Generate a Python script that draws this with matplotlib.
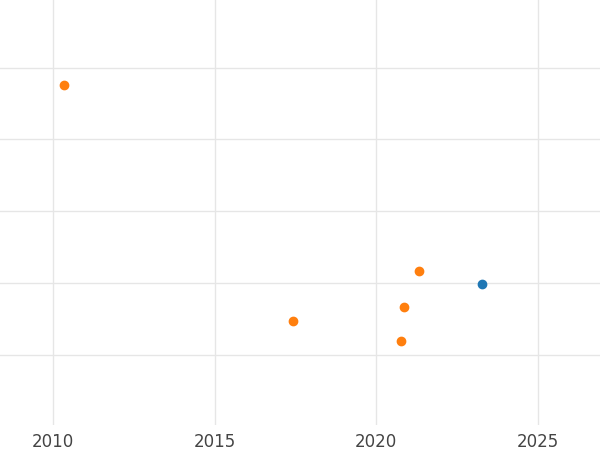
import matplotlib.pyplot as plt

# series values
orange_x = [2010.34, 2017.43, 2020.87, 2021.33, 2020.77]
orange_y = [4.76, 1.47, 1.67, 2.17, 1.19]
blue_x = [2023.28]
blue_y = [1.99]
xticks = [2010, 2015, 2020, 2025]

fig = plt.figure(figsize=(6, 4.5), dpi=100)
ax = fig.add_axes([0, 0.056, 1, 0.944])

ax.scatter(orange_x, orange_y, color='#ff7f0e', s=36, zorder=3)
ax.scatter(blue_x, blue_y, color='#1f77b4', s=36, zorder=3)

ax.set_xlim(2008.36, 2026.93)
ax.set_ylim(0.03, 5.94)
ax.set_xticks(xticks)
ax.set_yticks([1, 2, 3, 4, 5])
ax.set_yticklabels([])
ax.grid(True, color='#e6e6e6', linewidth=1)
ax.set_axisbelow(True)
for s in ax.spines.values():
    s.set_visible(False)
ax.tick_params(length=0, labelsize=12, labelcolor='#444444', pad=6)

fig.savefig('out.png', dpi=100)
